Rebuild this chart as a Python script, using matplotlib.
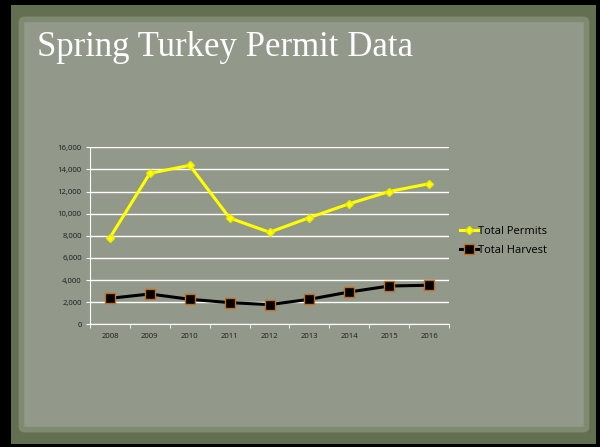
import matplotlib
matplotlib.use("Agg")
from matplotlib import pyplot
from matplotlib.patches import Rectangle, FancyBboxPatch

years = ["2008", "2009", "2010", "2011", "2012", "2013", "2014", "2015", "2016"]
total_permits = [7830, 13650, 14370, 9610, 8320, 9640, 10900, 12000, 12710]
total_harvest = [2350, 2740, 2260, 1960, 1780, 2260, 2920, 3460, 3530]

W, H = 600, 447
fig = pyplot.figure(figsize=(W / 100, H / 100), dpi=100)
fig.patch.set_facecolor("black")

# slide background: dark green frame with lighter paper in the middle
fig.patches.append(Rectangle((11 / W, 3 / H), 585 / W, 439 / H, transform=fig.transFigure,
                             facecolor="#646e50", edgecolor="none", zorder=0))
fig.patches.append(FancyBboxPatch((25 / W, 20 / H), 558 / W, 405 / H, transform=fig.transFigure,
                                  boxstyle="round,pad=0.006", facecolor="#92988a",
                                  edgecolor="#808a70", linewidth=4, zorder=0))

fig.text(37 / W, 1 - 48 / H, "Spring Turkey Permit Data", color="white",
         fontsize=25, family="Liberation Serif", va="center", ha="left", zorder=2)

ax = fig.add_axes([90 / W, 1 - 324.3 / H, (449 - 90) / W, (324.3 - 147.3) / H])
ax.set_zorder(2)
ax.set_facecolor("none")
x = list(range(len(years)))
ax.plot(x, total_permits, color="#ffff00", linewidth=2.2, marker="D", markersize=4,
        markerfacecolor="#ffff00", markeredgecolor="#e8e800", label="Total Permits", zorder=3)
ax.plot(x, total_harvest, color="black", linewidth=2.2, marker="s", markersize=7,
        markerfacecolor="black", markeredgecolor="#c07020", markeredgewidth=1,
        label="Total Harvest", zorder=3)

ax.set_ylim(0, 16000)
ax.set_yticks(range(0, 16001, 2000))
ax.set_yticklabels(["{:,}".format(v) for v in range(0, 16001, 2000)])
ax.set_xlim(-0.5, len(years) - 0.5)
ax.set_xticks(x)
ax.set_xticklabels(years)
ax.set_xticks([i - 0.5 for i in range(len(years) + 1)], minor=True)
ax.grid(axis="y", color="white", linewidth=1)
ax.set_axisbelow(True)
for side in ["top", "right"]:
    ax.spines[side].set_visible(False)
ax.spines["left"].set_color("white")
ax.spines["bottom"].set_color("white")
ax.tick_params(axis="y", length=3, color="white", labelsize=5.6, labelcolor="#1e1e1e", pad=3)
ax.tick_params(axis="x", which="major", length=0, labelsize=5.6, labelcolor="#1e1e1e", pad=6)
ax.tick_params(axis="x", which="minor", length=3, color="white")
for lbl in ax.get_xticklabels() + ax.get_yticklabels():
    lbl.set_family("Open Sans")

leg = fig.legend(loc="center left", bbox_to_anchor=(450 / W, 1 - 241 / H), frameon=False,
                 handlelength=1.6, handletextpad=0.0, labelspacing=0.75,
                 prop={"family": "Open Sans", "size": 8})
for t in leg.get_texts():
    t.set_color("black")

pyplot.savefig("out.png", dpi=100, facecolor=fig.get_facecolor())
